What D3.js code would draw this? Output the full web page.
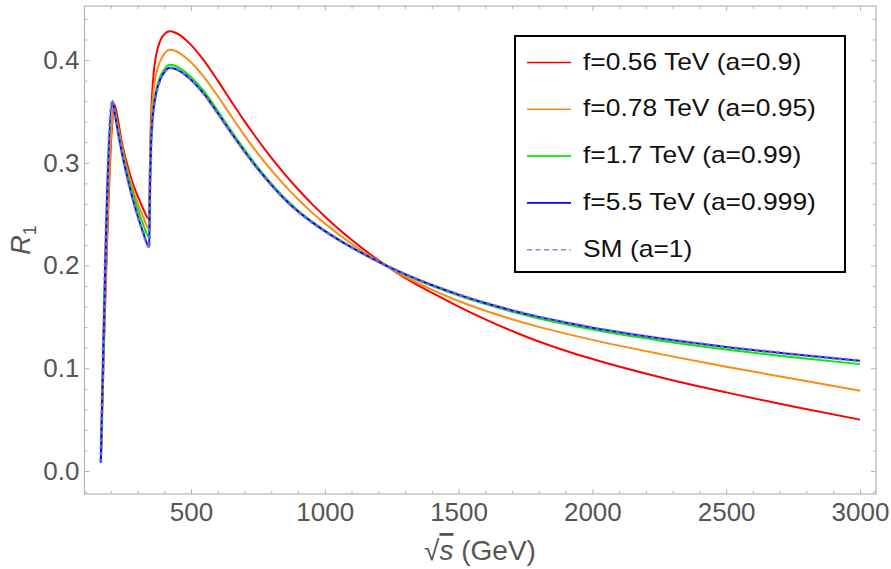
<!DOCTYPE html>
<html><head><meta charset="utf-8">
<script src="https://cdn.jsdelivr.net/npm/d3@7"></script>
<style>
body{margin:0;background:#fff}
svg{display:block}
text{font-family:"Liberation Sans",Arial,sans-serif}
</style>
</head><body>
<svg id="c" width="891" height="569"></svg>
<script>
// ---- data ----
const sqrtS = [163,206,213,225,240,260,280,300,320,344,346,349,353,360,370,385,400,420,440,460,480,500,550,600,650,700,750,800,850,900,950,1000,1050,1100,1150,1200,1250,1300,1400,1500,1600,1700,1800,1900,2000,2250,2500,2750,3000];
const r1_f056 = [0.008,0.340,0.357,0.345,0.322,0.300,0.282,0.268,0.256,0.245,0.290,0.330,0.358,0.386,0.405,0.419,0.425,0.428,0.4268,0.4240,0.4198,0.4148,0.3990,0.3800,0.3600,0.3405,0.3222,0.3050,0.2890,0.2742,0.2605,0.2478,0.2360,0.2250,0.2148,0.2052,0.1962,0.1880,0.1735,0.1600,0.1476,0.1363,0.1260,0.1170,0.1090,0.0915,0.0765,0.0627,0.0500];
const r1_f078 = [0.008,0.343,0.352,0.338,0.318,0.295,0.277,0.261,0.248,0.2355,0.278,0.318,0.346,0.370,0.387,0.399,0.406,0.410,0.4090,0.4063,0.4025,0.3978,0.3830,0.3650,0.3455,0.3265,0.3090,0.2928,0.2780,0.2645,0.2522,0.2410,0.2307,0.2212,0.2124,0.2042,0.1965,0.1893,0.1765,0.1655,0.1560,0.1477,0.1403,0.1337,0.1276,0.1140,0.1015,0.0897,0.0782];
const r1_f17 = [0.008,0.357,0.352,0.336,0.315,0.292,0.273,0.256,0.241,0.2274,0.268,0.307,0.335,0.356,0.371,0.384,0.391,0.3954,0.3944,0.3919,0.3882,0.3836,0.3692,0.3505,0.3313,0.3128,0.2956,0.2799,0.2657,0.2535,0.2433,0.2341,0.2257,0.2179,0.2106,0.2036,0.1971,0.1911,0.1803,0.1708,0.1624,0.1550,0.1485,0.1428,0.1377,0.1271,0.1183,0.1108,0.1040];
const r1_f55 = [0.008,0.360,0.351,0.333,0.312,0.288,0.267,0.249,0.233,0.2183,0.262,0.302,0.330,0.352,0.368,0.381,0.388,0.3925,0.3915,0.3890,0.3853,0.3808,0.3665,0.3482,0.3292,0.3110,0.2940,0.2785,0.2645,0.2525,0.2425,0.2335,0.2253,0.2177,0.2106,0.2038,0.1975,0.1916,0.1810,0.1717,0.1635,0.1563,0.1500,0.1445,0.1395,0.1292,0.1207,0.1136,0.1072];
const r1_SM = [0.008,0.361,0.351,0.333,0.312,0.288,0.267,0.249,0.233,0.2173,0.262,0.302,0.330,0.352,0.368,0.381,0.388,0.3922,0.3915,0.3890,0.3853,0.3808,0.3665,0.3482,0.3292,0.3110,0.2940,0.2785,0.2645,0.2525,0.2425,0.2335,0.2253,0.2177,0.2106,0.2038,0.1975,0.1916,0.1810,0.1717,0.1635,0.1563,0.1500,0.1445,0.1395,0.1292,0.1207,0.1136,0.1072];

const seriesLabels = ["f=0.56 TeV (a=0.9)","f=0.78 TeV (a=0.95)","f=1.7 TeV (a=0.99)","f=5.5 TeV (a=0.999)","SM (a=1)"];
const seriesValues = [r1_f056, r1_f078, r1_f17, r1_f55, r1_SM];
const seriesColors = ["#ff0000","#ff8a14","#00ee00","#0000ff","#8c8cc4"];

const xMajorTicks = [500,1000,1500,2000,2500,3000];
const yMajorTicks = [0.0,0.1,0.2,0.3,0.4];

// ---- layout ----
const svg = d3.select("#c");
const F = {left:84.5, right:876, top:6, bottom:494};
const x = d3.scaleLinear().domain([102,3060]).range([F.left,F.right]);
const y = d3.scaleLinear().domain([-0.0224,0.4526]).range([F.bottom,F.top]);

svg.append("defs").append("clipPath").attr("id","clip")
  .append("rect").attr("x",F.left).attr("y",F.top).attr("width",F.right-F.left).attr("height",F.bottom-F.top);

const xMinor = d3.range(200,3001,100).filter(d=>d%500!==0);
const yMinor = d3.range(-0.02,0.4501,0.02).map(d=>+d.toFixed(2)).filter(d=>Math.abs(d*10-Math.round(d*10))>1e-6);

function styleAxis(g){
  g.select(".domain").remove();
  g.selectAll("line").attr("stroke","#b4b4b4");
  g.selectAll("text").attr("fill","#555").style("font-size","26px").style("font-family","'Liberation Sans',Arial,sans-serif");
}
// bottom
svg.append("g").attr("transform",`translate(0,${F.bottom})`)
  .call(d3.axisBottom(x).tickValues(xMajorTicks).tickSize(-5).tickPadding(9).tickFormat(d3.format("d"))).call(styleAxis);
svg.append("g").attr("transform",`translate(0,${F.bottom})`)
  .call(d3.axisBottom(x).tickValues(xMinor).tickSize(-3).tickFormat("")).call(styleAxis);
// top
svg.append("g").attr("transform",`translate(0,${F.top})`)
  .call(d3.axisTop(x).tickValues(xMajorTicks).tickSize(-5).tickFormat("")).call(styleAxis);
svg.append("g").attr("transform",`translate(0,${F.top})`)
  .call(d3.axisTop(x).tickValues(xMinor).tickSize(-3).tickFormat("")).call(styleAxis);
// left
svg.append("g").attr("transform",`translate(${F.left},0)`)
  .call(d3.axisLeft(y).tickValues(yMajorTicks).tickSize(-5).tickPadding(5).tickFormat(d3.format(".1f"))).call(styleAxis);
svg.append("g").attr("transform",`translate(${F.left},0)`)
  .call(d3.axisLeft(y).tickValues(yMinor).tickSize(-3).tickFormat("")).call(styleAxis);
// right
svg.append("g").attr("transform",`translate(${F.right},0)`)
  .call(d3.axisRight(y).tickValues(yMajorTicks).tickSize(-5).tickFormat("")).call(styleAxis);
svg.append("g").attr("transform",`translate(${F.right},0)`)
  .call(d3.axisRight(y).tickValues(yMinor).tickSize(-3).tickFormat("")).call(styleAxis);

// frame
svg.append("rect").attr("x",F.left).attr("y",F.top).attr("width",F.right-F.left).attr("height",F.bottom-F.top)
  .attr("fill","none").attr("stroke","#b4b4b4").attr("stroke-width",1.2);

// curves
const line = d3.line().x((d,i)=>x(sqrtS[i])).y(d=>y(d)).curve(d3.curveMonotoneX);
const plot = svg.append("g").attr("clip-path","url(#clip)");
seriesValues.forEach((vals,k)=>{
  const p = plot.append("path").attr("d",line(vals)).attr("fill","none")
    .attr("stroke",seriesColors[k]).attr("stroke-linejoin","round");
  if(k===4){
    p.attr("stroke","#8484b0").attr("stroke-opacity",0.75).attr("stroke-width",3.2).attr("stroke-dasharray","4,3");
  } else {
    p.attr("stroke-width",2);
  }
});

// axis labels
svg.append("text").attr("x",480).attr("y",560).attr("text-anchor","middle")
  .attr("fill","#555").style("font-size","28px")
  .html('√<tspan font-style="italic" text-decoration="overline">s</tspan> (GeV)');
svg.append("text").attr("transform","translate(30,240) rotate(-90)").attr("text-anchor","middle")
  .attr("fill","#555").style("font-size","27px")
  .html('<tspan font-style="italic">R</tspan><tspan font-size="18px" dy="6">1</tspan>');

// legend
const L = {x:515, y:36, w:330, h:236, row0:62.5, dy:46.8};
const leg = svg.append("g");
leg.append("rect").attr("x",L.x).attr("y",L.y).attr("width",L.w).attr("height",L.h)
  .attr("fill","#fff").attr("stroke","#000").attr("stroke-width",2);
seriesLabels.forEach((lab,k)=>{
  const yy = L.row0 + k*L.dy;
  const ln = leg.append("line").attr("x1",527).attr("x2",571).attr("y1",yy).attr("y2",yy)
    .attr("stroke",seriesColors[k]).attr("stroke-width",1.6);
  if(k===4) ln.attr("stroke-dasharray","5,3.5");
  const t = leg.append("text").attr("x",583).attr("y",yy+7).attr("fill","#111")
    .style("font-size","24px").text(lab);
  const w = t.node().getComputedTextLength();
  t.attr("textLength",w*1.1).attr("lengthAdjust","spacingAndGlyphs");
});
</script>
</body></html>
